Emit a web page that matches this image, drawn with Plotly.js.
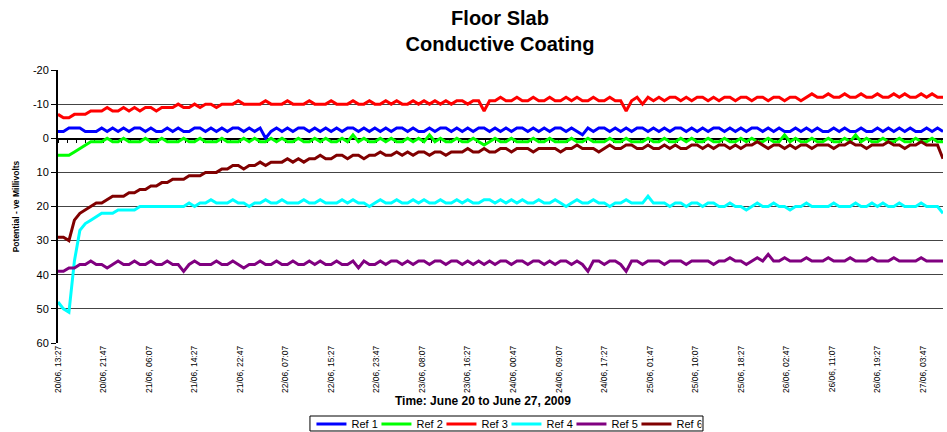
<!DOCTYPE html>
<html>
<head>
<meta charset="utf-8">
<script src="https://cdn.plot.ly/plotly-3.0.1.min.js"></script>
<style>html,body{margin:0;padding:0;background:#fff;}#chart{width:947px;height:432px;}</style>
</head>
<body>
<div id="chart"></div>
<script>
// Hourly readings starting 20/06/2009 13:27
const startTime = '2009-06-20 13:27';
const stepHours = 1;
const seriesNames = ['Ref 1', 'Ref 2', 'Ref 3', 'Ref 4', 'Ref 5', 'Ref 6'];
const seriesColors = ['#0000FF', '#00FF00', '#FF0000', '#00FFFF', '#800080', '#800000'];

const ref1 = [
  -2,-2,-3,-3,-3,-2,-2,-2,-3,-2,
  -3,-2,-3,-2,-3,-3,-2,-3,-2,-2,
  -3,-2,-3,-2,-2,-3,-3,-2,-3,-2,
  -3,-2,-3,-3,-2,-3,-2,-3,0,-2,
  -3,-2,-3,-2,-3,-3,-2,-3,-2,-3,
  -2,-3,-2,-3,-3,-2,-3,-2,-3,-2,
  -3,-2,-3,-3,-2,-3,-2,-2,-3,-2,
  -3,-3,-2,-3,-2,-3,-2,-3,-3,-2,
  -3,-2,-3,-2,-3,-3,-2,-3,-2,-3,
  -2,-3,-3,-2,-3,-2,-1,-3,-2,-3,
  -3,-2,-3,-2,-3,-2,-3,-3,-2,-3,
  -2,-3,-2,-3,-3,-2,-3,-2,-3,-2,
  -3,-3,-2,-3,-2,-3,-2,-3,-3,-2,
  -3,-2,-3,-2,-2,-3,-2,-3,-2,-3,
  -2,-2,-3,-2,-3,-2,-2,-3,-2,-2,
  -3,-2,-3,-2,-3,-2,-3,-2,-2,-3,
  -2,-3,-2
];
const ref2 = [
  5,5,5,4,3,2,1,1,1,0,
  1,1,0,1,1,1,0,1,1,0,
  1,1,1,0,1,1,0,1,1,1,
  0,1,1,1,0,1,0,1,1,0,
  1,0,1,1,0,1,1,0,1,0,
  1,1,0,1,-1,1,0,1,1,0,
  1,0,1,1,0,1,0,1,-1,1,
  0,1,1,0,1,1,0,1,2,1,
  0,1,1,0,1,1,1,0,1,1,
  0,1,1,1,0,1,1,0,1,1,
  1,0,1,1,0,1,1,1,0,1,
  1,0,1,1,0,1,0,1,1,0,
  1,1,0,1,1,0,1,0,1,1,
  0,1,1,-1,1,0,1,1,0,1,
  1,0,1,1,0,1,-1,1,0,1,
  1,0,1,1,0,1,1,0,1,1,
  0,1,1
];
const ref3 = [
  -7,-6,-6,-7,-7,-7,-8,-8,-8,-9,
  -8,-8,-9,-8,-9,-8,-9,-9,-8,-9,
  -9,-9,-10,-9,-9,-10,-9,-10,-10,-9,
  -10,-10,-10,-11,-10,-10,-10,-10,-11,-10,
  -10,-10,-11,-10,-10,-10,-11,-10,-10,-10,
  -11,-10,-10,-10,-11,-10,-10,-11,-10,-10,
  -11,-10,-11,-10,-10,-11,-10,-11,-10,-11,
  -10,-11,-10,-11,-11,-10,-11,-11,-8,-11,
  -11,-12,-11,-11,-12,-11,-11,-12,-11,-11,
  -12,-11,-11,-12,-11,-12,-11,-11,-12,-11,
  -11,-12,-11,-11,-8,-11,-12,-10,-12,-11,
  -12,-11,-12,-12,-11,-12,-11,-12,-12,-11,
  -12,-11,-12,-12,-11,-12,-12,-11,-12,-12,
  -11,-12,-12,-11,-12,-12,-11,-12,-13,-12,
  -12,-13,-12,-12,-13,-12,-12,-13,-12,-12,
  -13,-12,-12,-13,-12,-13,-12,-12,-13,-12,
  -13,-12,-12
];
const ref4 = [
  48,50,51,36,27,25,24,23,22,22,
  22,21,21,21,21,20,20,20,20,20,
  20,20,20,20,19,20,19,19,18,19,
  19,19,18,19,19,20,19,19,18,19,
  19,18,19,19,19,18,19,19,18,19,
  19,19,18,19,18,19,19,20,19,18,
  19,19,18,19,19,18,19,18,19,19,
  18,19,19,18,19,18,19,19,18,18,
  19,18,19,18,19,18,19,19,18,19,
  19,18,19,20,19,18,19,19,18,19,
  19,20,19,19,18,19,19,19,17,19,
  19,19,20,19,19,20,19,19,20,19,
  19,20,20,19,20,20,21,20,19,20,
  20,19,20,20,21,20,20,19,20,20,
  20,20,19,20,20,20,19,20,20,19,
  20,19,20,20,19,20,20,20,19,20,
  20,20,22
];
const ref5 = [
  39,39,38,38,37,37,36,37,37,38,
  37,36,37,37,36,37,37,36,37,37,
  36,37,37,39,37,36,37,37,37,36,
  37,37,36,37,38,37,37,36,37,37,
  36,37,37,36,37,37,36,37,36,37,
  37,36,37,37,36,38,36,37,37,36,
  37,36,36,37,36,37,36,36,37,36,
  36,37,36,36,37,36,37,36,37,36,
  37,36,36,37,36,36,37,36,36,37,
  36,37,36,36,37,36,37,39,36,36,
  37,36,36,37,39,36,36,37,36,36,
  36,37,36,36,36,37,36,36,36,36,
  37,36,36,35,36,36,37,36,35,36,
  34,36,36,35,36,36,36,35,36,36,
  36,35,36,36,36,35,36,36,36,35,
  36,36,36,35,36,36,36,36,35,36,
  36,36,36
];
const ref6 = [
  29,29,30,24,22,21,20,19,19,18,
  17,17,17,16,16,15,15,14,14,13,
  13,12,12,12,11,11,11,10,10,10,
  9,9,8,8,9,8,8,7,8,7,
  7,7,6,7,6,7,6,6,5,6,
  6,5,5,6,5,5,6,5,5,4,
  5,5,4,5,4,5,4,4,5,4,
  4,5,4,4,4,3,4,4,3,4,
  4,3,3,4,3,3,3,4,3,3,
  3,3,4,3,3,2,3,3,3,4,
  3,2,3,3,2,2,3,3,2,3,
  3,2,3,2,3,3,2,2,3,2,
  3,2,2,3,2,3,2,2,1,2,
  3,2,2,3,2,3,2,2,3,2,
  2,2,3,2,2,1,2,2,3,2,
  2,2,1,2,2,3,2,2,1,2,
  2,2,6
];
const allSeries = [ref1, ref2, ref3, ref4, ref5, ref6];

const yTickVals = [-20, -10, 0, 10, 20, 30, 40, 50, 60];
const yTickText = ['-20', '-10', '0', '10', '20', '30', '40', '50', '60'];
const xTitle = 'Time: June 20 to June 27, 2009';
const yTitle = 'Potential - ve Millivolts';
const chartTitle = 'Floor Slab<br>Conductive Coating';

const HOUR = 3600000;
const t0 = Date.UTC(2009, 5, 20, 13, 27);
const times = ref1.map((_, i) => t0 + i * stepHours * HOUR);
const tEnd = times[times.length - 1];

const FONT = 'Liberation Sans, Arial, sans-serif';

const traces = allSeries.map((s, k) => ({
  type: 'scatter', mode: 'lines', name: seriesNames[k],
  x: times, y: s,
  line: {color: seriesColors[k], width: 3},
  xaxis: 'x', yaxis: 'y'
}));

const layout = {
  width: 947, height: 432,
  margin: {l: 58, r: 4, t: 70, b: 89},
  paper_bgcolor: '#fff', plot_bgcolor: '#fff',
  showlegend: true,
  font: {family: FONT, color: '#000'},
  title: {
    text: chartTitle,
    font: {family: FONT, size: 20, weight: 'bold', color: '#000'},
    x: 0.528, xanchor: 'center', xref: 'container',
    y: 0.943, yanchor: 'top', yref: 'container'
  },
  xaxis: {
    type: 'date',
    range: [t0, tEnd],
    tick0: t0, dtick: 500 * 60000,
    tickformat: '%d/%m, %H:%M',
    tickangle: -90,
    tickfont: {family: FONT, size: 8.5, color: '#000'},
    ticks: '', showgrid: false, zeroline: false, showline: false,
    automargin: false
  },
  xaxis2: {
    type: 'date', overlaying: 'x', anchor: 'free', position: 0.75,
    range: [t0, tEnd],
    tick0: t0, dtick: 100 * 60000,
    showticklabels: false, ticks: 'outside', ticklen: 3, tickcolor: '#000', tickwidth: 1,
    showline: true, linecolor: '#000', linewidth: 1.5,
    showgrid: false, zeroline: false, layer: 'below traces'
  },
  yaxis: {
    range: [60, -20],
    tickvals: yTickVals, ticktext: yTickText,
    tickfont: {family: FONT, size: 11, color: '#000'},
    ticks: 'outside', ticklen: 5, tickcolor: '#000',
    showgrid: true, gridcolor: '#444', gridwidth: 1,
    zeroline: false,
    showline: true, linecolor: '#000', linewidth: 2,
    automargin: false,
    title: {text: yTitle, font: {family: FONT, size: 8.5, weight: 'bold', color: '#000'}, standoff: 12}
  },
  annotations: [{
    text: xTitle, showarrow: false,
    xref: 'paper', yref: 'paper', x: 0.48, y: -0.211,
    xanchor: 'center', yanchor: 'middle',
    font: {family: FONT, size: 12, weight: 'bold', color: '#000'}
  }],
  shapes: [{
    type: 'rect', xref: 'paper', yref: 'paper',
    x0: 0.2847, x1: 0.7288, y0: -0.2674, y1: -0.3223,
    line: {color: '#000', width: 1}, fillcolor: 'rgba(0,0,0,0)', layer: 'above'
  }],
  legend: {
    orientation: 'h', x: 0.5348, xanchor: 'center', xref: 'container',
    y: 0.0185, yanchor: 'middle', yref: 'container',
    bgcolor: 'rgba(0,0,0,0)', borderwidth: 0,
    font: {family: FONT, size: 11, color: '#000'},
    itemwidth: 30, entrywidth: 20, tracegroupgap: 0,
    traceorder: 'normal'
  }
};

const dummy = {type: 'scatter', mode: 'lines', x: [t0, tEnd], y: [null, null], xaxis: 'x2', yaxis: 'y', showlegend: false, hoverinfo: 'skip'};

Plotly.newPlot('chart', traces.concat([dummy]), layout, {displayModeBar: false, staticPlot: true});
</script>
</body>
</html>
